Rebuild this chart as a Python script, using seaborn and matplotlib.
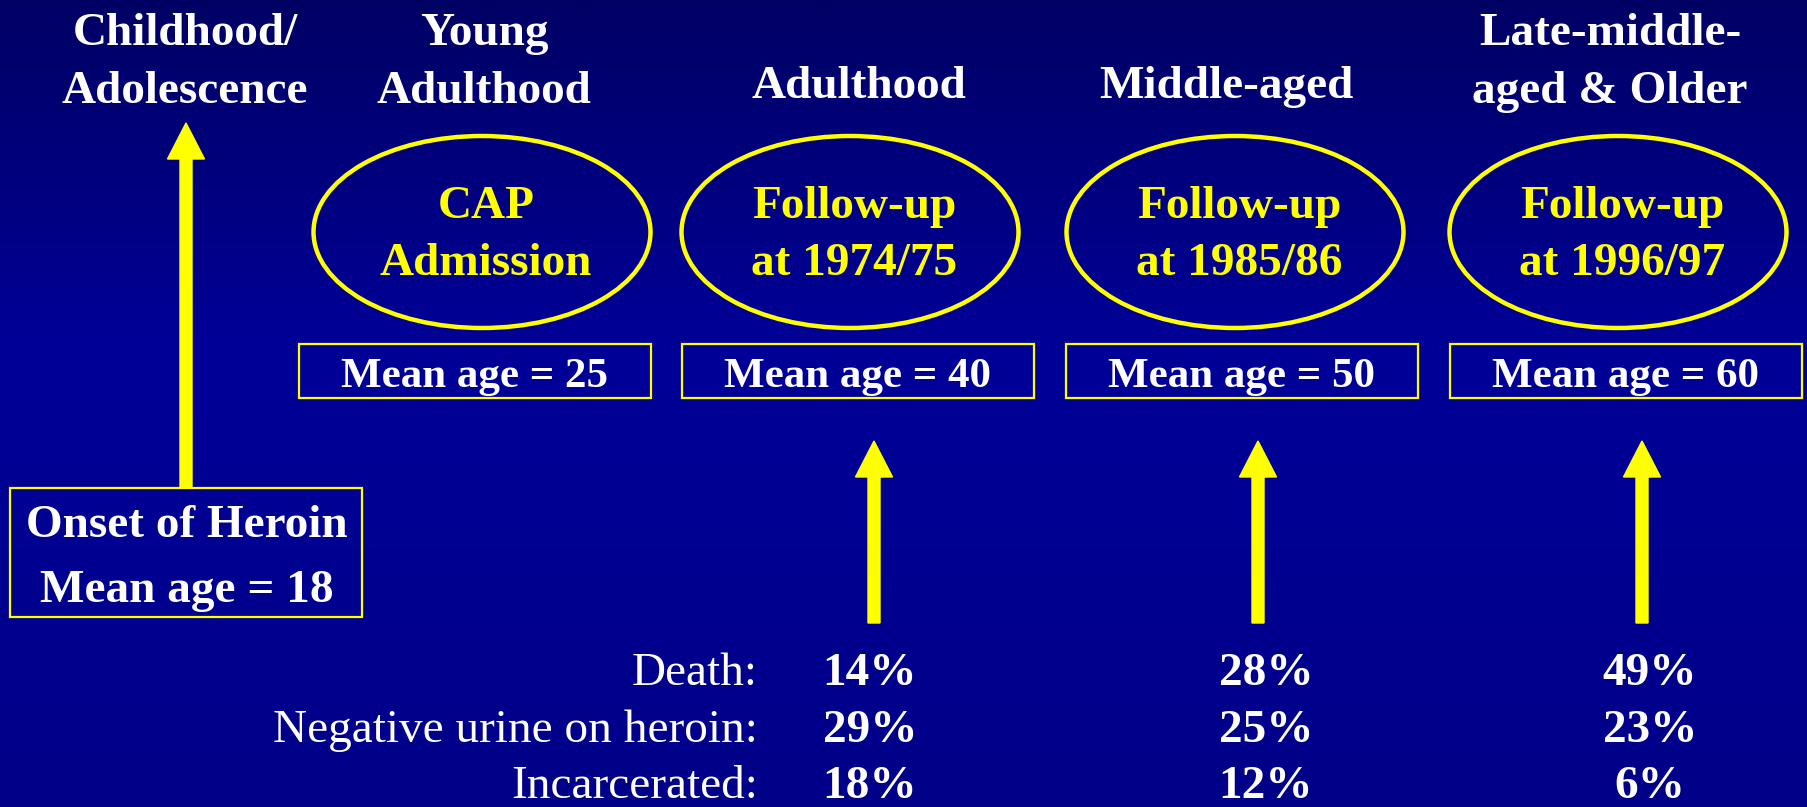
import numpy as np
import matplotlib
matplotlib.use("Agg")
import matplotlib.pyplot as plt
from matplotlib.patches import Ellipse, Rectangle
import seaborn as sns

# Data
stage_labels = ["Childhood/\nAdolescence", "Young\nAdulthood", "Adulthood",
                "Middle-aged", "Late-middle-\naged & Older"]
wave_labels = ["CAP\nAdmission", "Follow-up\nat 1974/75",
               "Follow-up\nat 1985/86", "Follow-up\nat 1996/97"]
mean_ages = [25, 40, 50, 60]
onset_age = 18
outcome_names = ["Death", "Negative urine on heroin", "Incarcerated"]
death_pct = [14, 28, 49]
neg_urine_pct = [29, 25, 23]
incarcerated_pct = [18, 12, 6]

sns.set_theme(style="white")
plt.rcParams['font.family'] = ['Liberation Serif', 'DejaVu Serif']

W, H = 1808, 807
YELLOW = "#FFFF00"

fig = plt.figure(figsize=(W / 100, H / 100), dpi=100)
ax = fig.add_axes([0, 0, 1, 1])
ax.set_xlim(0, W)
ax.set_ylim(H, 0)
ax.axis("off")

# background: dark navy at top, brighter blue in the middle
yy = np.linspace(0, H, 400)
blue = np.interp(yy, [0, 350, H], [100, 152, 136]) / 255
bg = np.zeros((len(yy), 1, 3))
bg[:, 0, 2] = blue
ax.imshow(bg, extent=[0, W, H, 0], aspect="auto", zorder=0)

title_kw = dict(color="white", fontsize=34, fontweight="bold", ha="center", va="baseline")

# stage titles along the top
stage_x = [185, 484, 859, 1226, 1610]
for x, lab in zip(stage_x, stage_labels):
    lines = lab.split("\n")
    baselines = [45, 103] if len(lines) == 2 else [98]
    for line, yb in zip(lines, baselines):
        ax.text(x, yb, line, **title_kw)

# ellipses + mean age boxes for each wave
ell_x = [482, 850, 1235, 1618]
box_x = [475, 858, 1242, 1626]
for i, lab in enumerate(wave_labels):
    ax.add_patch(Ellipse((ell_x[i], 232), 337, 192, fill=False,
                         edgecolor=YELLOW, lw=3.2, zorder=3))
    for line, yb in zip(lab.split("\n"), [218, 275]):
        ax.text(ell_x[i] + 4, yb, line, color=YELLOW, fontsize=34,
                fontweight="bold", ha="center", va="baseline")
    ax.add_patch(Rectangle((box_x[i] - 176, 344), 352, 54, fill=False,
                           edgecolor=YELLOW, lw=1.6, zorder=3))
    ax.text(box_x[i], 387, f"Mean age = {mean_ages[i]}", color="white",
            fontsize=31, fontweight="bold", ha="center", va="baseline")

# onset box and its arrow
ax.arrow(186, 488, 0, -(488 - 123), width=12, head_width=37, head_length=36,
         length_includes_head=True, color=YELLOW, zorder=2)
ax.add_patch(Rectangle((10, 488), 352, 129, fill=False, edgecolor=YELLOW,
                       lw=1.6, zorder=3))
ax.text(187, 537, "Onset of Heroin", **title_kw)
ax.text(187, 602, f"Mean age = {onset_age}", **title_kw)

# follow-up arrows and outcome percentages
arrow_x = [874, 1258, 1642]
val_x = [870, 1266, 1650]
row_base = [685, 742, 798]
for name, yb in zip(outcome_names, row_base):
    ax.text(758, yb, name + ":", color="white", fontsize=34,
            ha="right", va="baseline")

outcomes = [death_pct, neg_urine_pct, incarcerated_pct]
for j in range(3):
    ax.arrow(arrow_x[j], 623, 0, -(623 - 441), width=12, head_width=37,
             head_length=36, length_includes_head=True, color=YELLOW, zorder=2)
    for r, vals in enumerate(outcomes):
        ax.text(val_x[j], row_base[r], f"{vals[j]}%", color="white",
                fontsize=34, fontweight="bold", ha="center", va="baseline")

fig.savefig("out.png", dpi=100)
